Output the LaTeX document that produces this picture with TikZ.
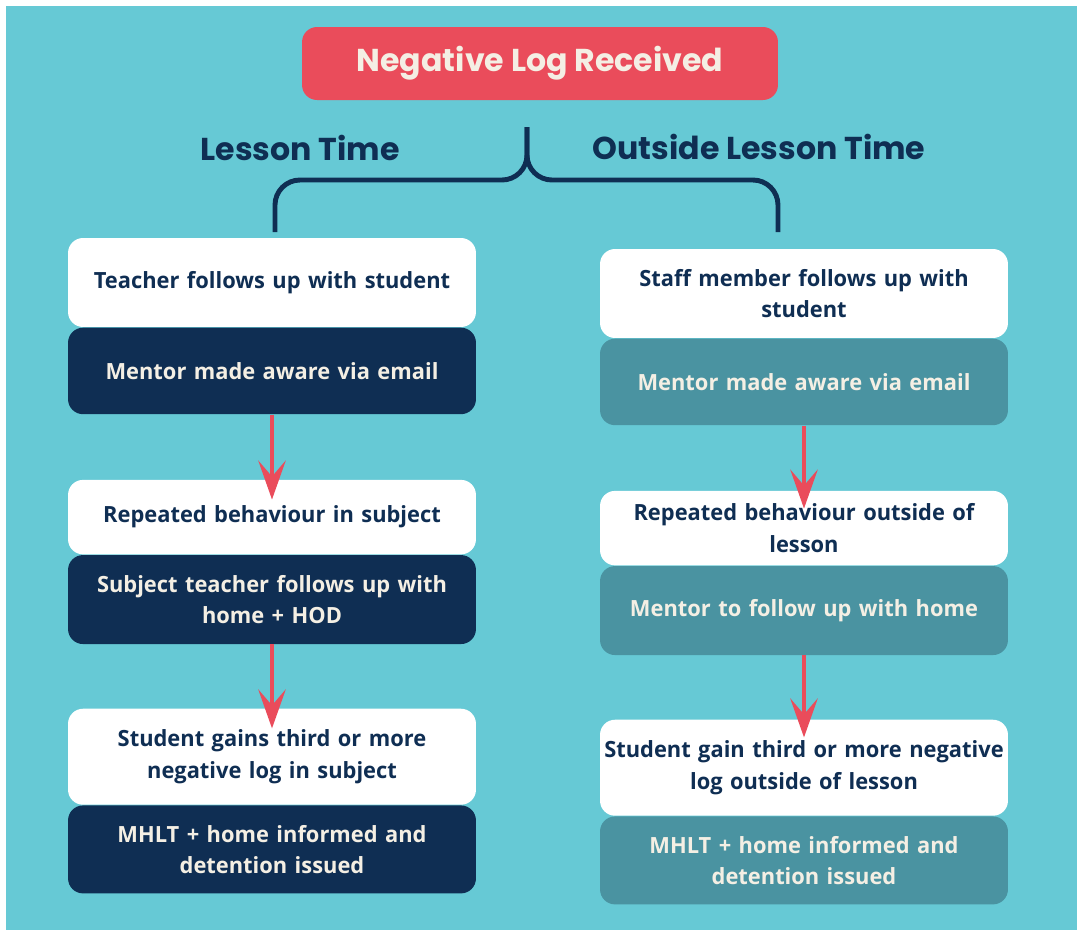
\documentclass[tikz,border=0pt]{standalone}
\usepackage{fontspec}
\setmainfont{Open Sans}[FakeStretch=0.98]
\newfontfamily\headfont{Poppins}
\usetikzlibrary{positioning, arrows.meta}
\definecolor{sky}{HTML}{66C9D5}
\definecolor{navy}{HTML}{0F2E53}
\definecolor{slate}{HTML}{4A93A1}
\definecolor{coral}{HTML}{EA4C5B}
\definecolor{cream}{HTML}{F4EFE4}
\tikzstyle{header} = [rectangle, rounded corners=0.3cm, minimum width=9.52cm,
minimum height=1.46cm, text centered, fill=coral, text=cream,
font=\headfont\bfseries\fontsize{18}{22}\selectfont]
\tikzstyle{side} = [text=navy, font=\headfont\bfseries\fontsize{18}{22}\selectfont]
\tikzstyle{whitebox} = [rectangle, rounded corners=0.3cm, minimum width=8.16cm,
text width=8cm, align=center, inner sep=0.08cm, fill=white, text=navy,
font=\bfseries\fontsize{12.7}{18}\selectfont]
\tikzstyle{navybox} = [whitebox, fill=navy, text=cream]
\tikzstyle{slatebox} = [whitebox, fill=slate, text=cream]
\tikzstyle{arrow} = [line width=2.3pt, draw=coral,
-{Stealth[length=0.78cm, width=0.55cm, inset=0.32cm]}]
\tikzstyle{brace} = [line width=2.8pt, draw=navy, rounded corners=0.5cm]

\begin{document}
\begin{tikzpicture}[x=0.02cm, y=-0.02cm]

\useasboundingbox (0,0) rectangle (1080,931);
\fill[sky] (6,6) rectangle (1077,930);

\node(received)[header] at (540,63.5) {Negative Log Received};
\node(inLesson)[side] at (300,148) {Lesson Time};
\node(outLesson)[side] at (759,147) {Outside Lesson Time};

% lesson time column
\node(teacher)[whitebox, minimum height=1.78cm] at (272,282.5) {Teacher follows up with student};
\node(mentorL)[navybox, minimum height=1.73cm, below=0pt of teacher] {Mentor made aware via email};
\node(repeatL)[whitebox, minimum height=1.49cm, below=1.3cm of mentorL] {Repeated behaviour in subject};
\node(subjectL)[navybox, minimum height=1.78cm, below=0pt of repeatL] {Subject teacher follows up with\\home + HOD};
\node(thirdL)[whitebox, minimum height=1.92cm, below=1.28cm of subjectL] {Student gains third or more\\negative log in subject};
\node(mhltL)[navybox, minimum height=1.76cm, below=0pt of thirdL] {MHLT + home informed and\\detention issued};

% outside lesson time column
\node(staff)[whitebox, minimum height=1.78cm] at (804,293.5) {Staff member follows up with\\student};
\node(mentorR)[slatebox, minimum height=1.73cm, below=0pt of staff] {Mentor made aware via email};
\node(repeatR)[whitebox, minimum height=1.49cm, below=1.3cm of mentorR] {Repeated behaviour outside of\\lesson};
\node(homeR)[slatebox, minimum height=1.78cm, below=0pt of repeatR] {Mentor to follow up with home};
\node(thirdR)[whitebox, minimum height=1.92cm, below=1.28cm of homeR] {Student gain third or more negative\\log outside of lesson};
\node(mhltR)[slatebox, minimum height=1.76cm, below=0pt of thirdR] {MHLT + home informed and\\detention issued};

% brace
\coordinate(fork) at (527,127);
\coordinate(leftEnd) at (275,232);
\coordinate(rightEnd) at (778,232);
\draw[brace](fork) -- ++(0,53) -| (leftEnd);
\draw[brace](fork) -- ++(0,53) -| (rightEnd);

\draw[arrow](mentorL.south) -- ([yshift=-0.4cm]repeatL.north);
\draw[arrow](subjectL.south) -- ([yshift=-0.4cm]thirdL.north);
\draw[arrow](mentorR.south) -- ([yshift=-0.36cm]repeatR.north);
\draw[arrow](homeR.south) -- ([yshift=-0.36cm]thirdR.north);

\end{tikzpicture}
\end{document}
